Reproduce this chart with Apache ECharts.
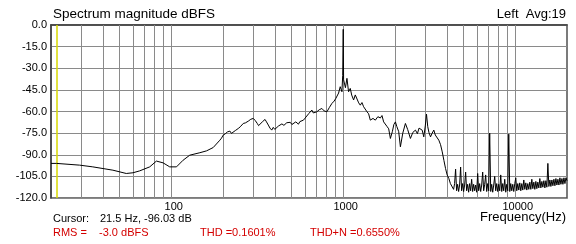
<!DOCTYPE html>
<html>
<head>
<meta charset="utf-8">
<script src="https://cdn.jsdelivr.net/npm/echarts@6/dist/echarts.min.js"></script>
<style>
html,body{margin:0;padding:0;background:#fff;}
#chart{width:576px;height:244px;}
</style>
</head>
<body>
<div id="chart"></div>
<script>
// ---- data ----
// low band, smooth part (Hz, dBFS)
const lowFreq = [20, 21.5, 29.3, 35.0, 45.8, 54.8, 59.9, 65.5, 75.0, 82.0, 89.6, 98.0, 107.3, 117.2, 128.2,
  146.7, 160.5, 175.4];
const lowDb = [-96.0, -96.0, -97.2, -98.4, -100.7, -103, -102.5, -101.2, -98.4, -94.4, -95.6, -98.4, -98.4, -93.8, -90.3,
  -88.6, -87.3, -85];
// mid band incl. 1 kHz tone and roll-off
const midFreq = [191.8, 196, 200.5, 206, 212, 219.4, 224, 229.3, 236, 245.2, 252, 262.3, 270, 280.5, 290,
  300, 308, 316.5, 322, 328.3, 340, 351, 358, 366.9, 375, 384, 392, 400, 410.7, 420,
  429.4, 440, 452, 469.7, 480, 492, 503, 513.3, 530, 549, 560, 572, 587.1, 600, 614.6,
  630, 645, 657.1, 670, 686, 702.8, 725, 751.5, 775, 803.8, 830, 859.6, 885, 905, 919,
  940, 960.5, 982.9, 993, 1000, 1005, 1030, 1051, 1074, 1099, 1120, 1149, 1175, 1202, 1230,
  1257, 1285, 1314, 1345, 1375, 1405, 1437, 1490, 1537, 1590, 1644, 1680, 1718, 1758, 1800,
  1838, 1880, 1930, 1970, 2011, 2050, 2102, 2150, 2220, 2299, 2370, 2459, 2540, 2630, 2700,
  2760, 2812, 2880, 2940, 3000, 3049, 3100, 3150, 3217, 3290, 3363, 3430, 3500, 3596, 3680,
  3764, 3850, 3934, 4020, 4113, 4200, 4305];
const midDb = [-79.9, -78.5, -76.4, -75.5, -74.2, -73.6, -75.2, -74.8, -73.2, -71.8, -70.6, -68.3, -67.9, -66.7, -65.4,
  -64.8, -66.3, -68.3, -69.8, -69.4, -67.0, -65.5, -67.2, -69.4, -71.5, -72.9, -71.0, -72.4, -71.8, -70.1,
  -69.4, -68.6, -69.6, -67.8, -68.9, -67.5, -69.0, -67.8, -67.2, -68.8, -67.0, -68.2, -66, -64.6, -63.7,
  -61.5, -60.6, -59, -61.0, -59.8, -60.2, -58.8, -57.9, -59.6, -60.2, -57.3, -54.4, -52.8, -51.0, -49.8,
  -47.2, -42.8, -46.3, -35, -3.0, -38, -43.5, -37, -46.3, -44, -48.6, -52, -48.5, -49.8, -54.0,
  -55.6, -53.8, -56.7, -57.8, -60.2, -61.6, -66, -64.8, -66, -63.6, -64.5, -62.8, -67.2, -68.3, -70.5,
  -72, -78.7, -74.0, -69.0, -67.2, -70.5, -74, -84.5, -75.0, -68.3, -72.5, -78.7, -74.5, -72.9, -75.4,
  -71.5, -70.6, -73.0, -77.6, -70.0, -61.8, -70.5, -74.5, -77.6, -75.0, -72.9, -76.3, -75.4, -79.9, -83.0,
  -88, -94.0, -99.5, -104.0, -106.5, -110.0, -111.1];
// noise floor with harmonic spikes
const noiseFreq = [4382, 4442, 4502, 4563, 4625, 4687, 4750, 4814, 4879, 4945, 5012, 5080, 5149, 5218, 5289,
  5360, 5432, 5506, 5580, 5656, 5732, 5810, 5889, 5968, 6049, 6130, 6213, 6297, 6382, 6468,
  6556, 6644, 6734, 6825, 6917, 7011, 7106, 7202, 7299, 7398, 7498, 7599, 7702, 7806, 7912,
  8018, 8127, 8236, 8347, 8460, 8574, 8690, 8808, 8927, 9047, 9170, 9294, 9419, 9547, 9676,
  9806, 9939, 10073, 10210, 10348, 10488, 10629, 10773, 10919, 11066, 11216, 11368, 11521, 11677, 11835,
  11995, 12157, 12321, 12488, 12657, 12828, 13001, 13177, 13355, 13535, 13719, 13904, 14092, 14282, 14476,
  14671, 14870, 15071, 15275, 15481, 15691, 15903, 16118, 16336, 16557, 16781, 17008, 17237, 17471, 17707,
  17947, 18189, 18435, 18684, 18937, 19193, 19453, 19716, 20000];
const noiseDb = [-114, -110, -100, -115, -110.5, -115.5, -111, -98.5, -115, -110, -115.5, -111, -102, -115, -110.5,
  -116, -110, -115, -107, -115.5, -110.5, -115, -111, -116, -103, -115, -110, -115.5, -111, -102,
  -115, -110.5, -104, -115.5, -110, -115, -75, -115.5, -110.5, -116, -111, -105, -115, -110, -115.5,
  -110.5, -115, -104, -115.5, -110, -115, -107, -116, -110.5, -115, -75.7, -115.5, -110, -115, -110.5,
  -115.5, -110, -106, -115, -110, -114.5, -109.5, -115, -110, -114.5, -107.5, -114, -109.5, -114.5, -110,
  -114, -109, -114, -107, -113.5, -109, -114, -108.5, -113.5, -109, -113, -106.5, -113, -108.5, -112.5,
  -108, -113, -108, -112.5, -96, -112, -107.5, -112, -107.5, -111.5, -107, -111.5, -106.5, -111, -107,
  -111, -106, -110.5, -106.5, -110.5, -106, -110, -106, -108];
const yTicks = [0, -15, -30, -45, -60, -75, -90, -105, -120];
const xLabelValues = [100, 1000, 10000];
const gridFreqs = [30, 40, 50, 60, 70, 80, 90, 100, 200, 300, 400, 500, 600, 700, 800, 900, 1000,
  2000, 3000, 4000, 5000, 6000, 7000, 8000, 9000, 10000];
const cursorHz = 21.5;
const titleText = 'Spectrum magnitude dBFS';
const channelText = 'Left  Avg:19';
const cursorLabel = 'Cursor:';
const cursorValue = '21.5 Hz, -96.03 dB';
const rmsLabel = 'RMS =';
const rmsValue = '-3.0 dBFS';
const thdText = 'THD =0.1601%';
const thdnText = 'THD+N =0.6550%';
const xAxisName = 'Frequency(Hz)';

const FONT = '"Liberation Sans", Arial, sans-serif';
const allFreq = lowFreq.concat(midFreq, noiseFreq);
const allDb = lowDb.concat(midDb, noiseDb);
const seriesData = allFreq.map((f, i) => [f, allDb[i]]);

const chart = echarts.init(document.getElementById('chart'), null, {renderer: 'canvas'});
function txt(x, y, text, opts) {
  return {
    type: 'text', x: x, y: y, silent: true,
    style: Object.assign({text: text, fill: '#000', font: '11px ' + FONT, textVerticalAlign: 'middle'}, opts || {})
  };
}
const GRID_COLOR = '#8a8a8a';
chart.setOption({
  animation: false,
  backgroundColor: '#fff',
  grid: {left: 51, top: 25, width: 516, height: 173, show: true, borderColor: '#505050', borderWidth: 1.5, backgroundColor: 'transparent'},
  xAxis: {
    type: 'log', logBase: 10, min: 20, max: 20000,
    axisLine: {show: true, lineStyle: {color: '#404040', width: 1.5}},
    axisTick: {show: false},
    splitLine: {show: false},
    minorTick: {show: false},
    axisLabel: {
      margin: 3, color: '#000', fontSize: 11, fontFamily: FONT, padding: [0, 0, 0, 5],
      formatter: function (v) { const r = Math.round(v); return xLabelValues.indexOf(r) >= 0 ? String(r) : ''; }
    }
  },
  yAxis: {
    type: 'value', min: -120, max: 0, interval: 15,
    axisLine: {show: true, lineStyle: {color: '#404040', width: 1.5}},
    axisTick: {show: false},
    splitLine: {show: true, lineStyle: {color: GRID_COLOR, width: 1}},
    axisLabel: {
      margin: 4, color: '#000', fontSize: 11, fontFamily: FONT,
      formatter: function (v) { return yTicks.indexOf(v) >= 0 ? v.toFixed(1) : ''; }
    }
  },
  series: [{
    type: 'line', data: seriesData, showSymbol: false, symbol: 'none',
    lineStyle: {color: '#000', width: 1}, z: 5,
    markLine: {
      silent: true, symbol: 'none', animation: false, label: {show: false},
      data: gridFreqs.map(f => ({xAxis: f, lineStyle: {color: GRID_COLOR, width: 1, type: 'solid'}}))
        .concat([{xAxis: cursorHz, lineStyle: {color: '#d8d800', width: 1.5, type: 'solid'}}])
    }
  }],
  graphic: [
    txt(53, 14, titleText, {font: '13.5px ' + FONT}),
    txt(566, 14, channelText, {font: '13px ' + FONT, textAlign: 'right'}),
    txt(53, 219, cursorLabel),
    txt(100, 219, cursorValue),
    txt(566, 217, xAxisName, {font: '13px ' + FONT, textAlign: 'right'}),
    txt(53, 233, rmsLabel, {fill: '#d40000'}),
    txt(99, 233, rmsValue, {fill: '#d40000'}),
    txt(200, 233, thdText, {fill: '#d40000'}),
    txt(310, 233, thdnText, {fill: '#d40000'})
  ]
});
</script>
</body>
</html>
